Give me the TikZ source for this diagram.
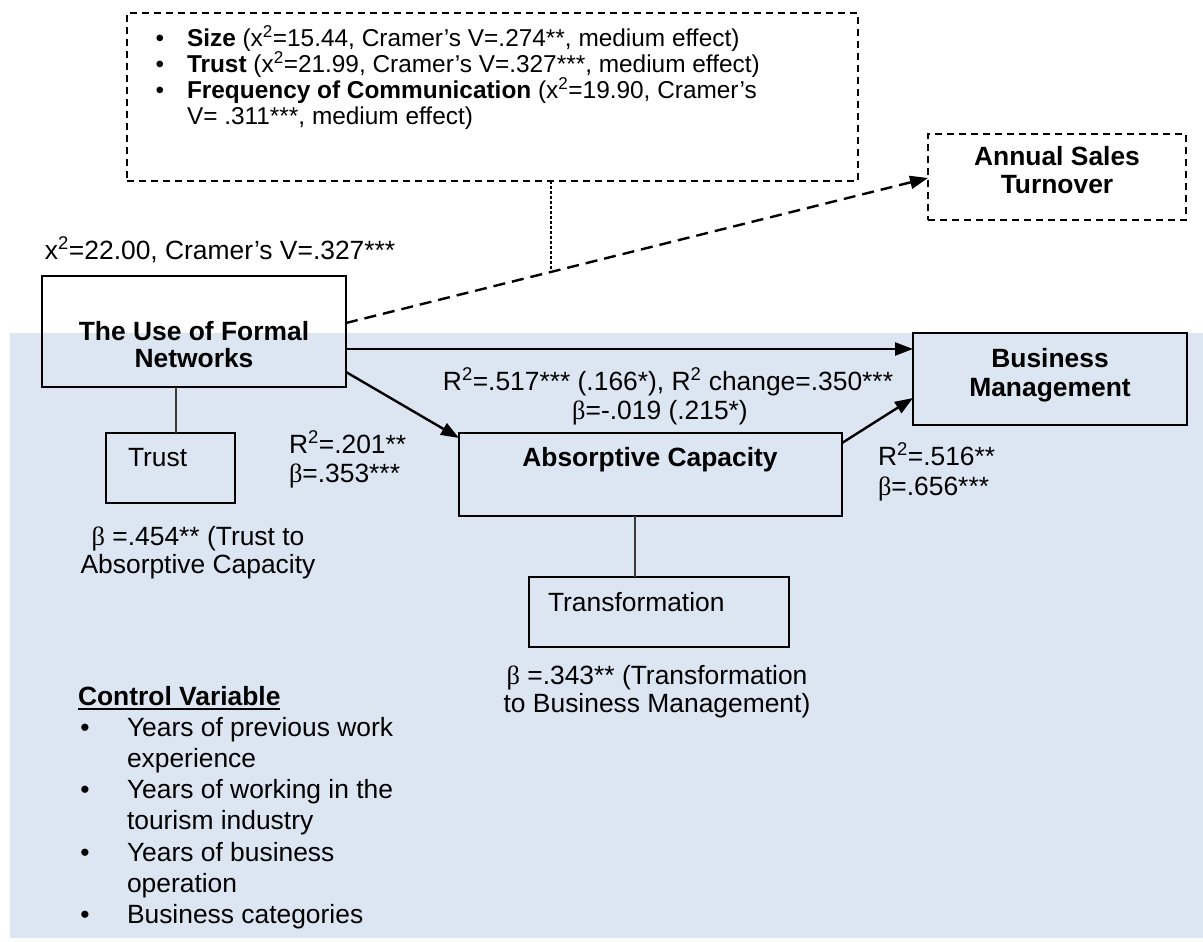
\documentclass[tikz,border=0pt]{standalone}
\usepackage{fontspec}
\setmainfont{Liberation Sans}
\newfontfamily\greekserif{Liberation Serif}
\usetikzlibrary{arrows.meta,calc}
\definecolor{bgblue}{HTML}{DCE6F2}
\definecolor{thinline}{HTML}{3A3A3A}
\newcommand{\bt}{{\greekserif β}}
\newcommand{\sq}{\textsuperscript{2}}
\begin{document}
\begin{tikzpicture}[x=1pt,y=-1pt,
  every node/.style={inner sep=0pt,outer sep=0pt,font=\fontsize{26.4}{29}\selectfont},
  boxnode/.style={draw=black,line width=1.8pt,rectangle,minimum width=#1},
  dashbox/.style={draw=black,line width=1.6pt,dash pattern=on 7pt off 5pt,rectangle},
  solidarrow/.style={line width=2.4pt,-{Triangle[length=18pt,width=13pt]}},
  dasharrow/.style={line width=2.4pt,dash pattern=on 12pt off 7pt,-{Triangle[length=18pt,width=13pt]}},
  linkline/.style={draw=thinline,line width=1.2pt},
  dotline/.style={draw=black,line width=1.1pt,dash pattern=on 3pt off 2pt},
  txt/.style={anchor=base west},
  ctxt/.style={anchor=base},
  bulletmark/.style={anchor=base},
  smalltxt/.style={anchor=base west,font=\fontsize{24.4}{26}\selectfont},
  smallbullet/.style={anchor=base,font=\fontsize{24.4}{26}\selectfont}
]
\useasboundingbox (0,0) rectangle (1203,942);
\fill[white] (0,0) rectangle (1203,942);
% shaded area of the model
\fill[bgblue] (10,333) rectangle (1203,938);

% boxes
\node[dashbox,minimum width=731pt,minimum height=168pt] (top) at (492.5,97) {};
\node[dashbox,minimum width=258pt,minimum height=86pt] (annual) at (1057,177) {};
\node[boxnode=304pt,minimum height=111pt] (formal) at (194,331.5) {};
\node[boxnode=274pt,minimum height=92pt] (business) at (1050,379) {};
\node[boxnode=129pt,minimum height=70pt] (trust) at (170.5,468) {};
\node[boxnode=383pt,minimum height=83pt] (absorb) at (650.5,474.5) {};
\node[boxnode=260pt,minimum height=70pt] (transf) at (659,612) {};

% bullet list of the dashed box
\node[smallbullet] (tb1) at (160,46.5) {•};
\node[smallbullet] (tb2) at (160,72.5) {•};
\node[smallbullet] (tb3) at (160,98.5) {•};
\node[smalltxt] (tl1) at (187,46.5) {\textbf{Size} (x\sq=15.44, Cramer’s V=.274**, medium effect)};
\node[smalltxt] (tl2) at (187,72.5) {\textbf{Trust} (x\sq=21.99, Cramer’s V=.327***, medium effect)};
\node[smalltxt] (tl3) at (187,98.5) {\textbf{Frequency of Communication} (x\sq=19.90, Cramer’s};
\node[smalltxt] (tl4) at (187,124.5) {V= .311***, medium effect)};

% box titles
\node[ctxt] (annualA) at (1057,165) {\textbf{Annual Sales}};
\node[ctxt] (annualB) at (1057,193) {\textbf{Turnover}};
\node[ctxt] (formalA) at (194,340) {\textbf{The Use of Formal}};
\node[ctxt] (formalB) at (194,367) {\textbf{Networks}};
\node[ctxt] (businessA) at (1050,367) {\textbf{Business}};
\node[ctxt] (businessB) at (1050,396) {\textbf{Management}};
\node[txt] (trustT) at (128,466) {Trust};
\node[ctxt] (absorbT) at (650,466) {\textbf{Absorptive Capacity}};
\node[txt] (transfT) at (548,611) {Transformation};

% statistics
\node[txt] (chi) at (45,259) {x\sq=22.00, Cramer’s V=.327***};
\node[txt] (r201) at (289,453) {R\sq=.201**};
\node[txt] (b353) at (289,482) {\bt=.353***};
\node[ctxt] (b454a) at (198,545) {\bt\ =.454** (Trust to};
\node[ctxt] (b454b) at (198,573) {Absorptive Capacity};
\node[ctxt] (r517) at (668,390) {R\sq=.517*** (.166*), R\sq\ change=.350***};
\node[ctxt] (b019) at (660,419) {\bt=-.019 (.215*)};
\node[txt] (r516) at (878,465) {R\sq=.516**};
\node[txt] (b656) at (878,495) {\bt=.656***};
\node[ctxt] (b343a) at (657,684) {\bt\ =.343** (Transformation};
\node[ctxt] (b343b) at (657,712) {to Business Management)};

% control variables
\node[txt] (cv) at (78,705) {\textbf{Control Variable}};
\draw[line width=2.2pt] ([yshift=-4pt]cv.base west) -- ([yshift=-4pt]cv.base east);
\node[bulletmark] (cb1) at (85,736) {•};
\node[txt] (cl1) at (127,736) {Years of previous work};
\node[txt] (cl2) at (127,767) {experience};
\node[bulletmark] (cb2) at (85,798) {•};
\node[txt] (cl3) at (127,798) {Years of working in the};
\node[txt] (cl4) at (127,829) {tourism industry};
\node[bulletmark] (cb3) at (85,861) {•};
\node[txt] (cl5) at (127,861) {Years of business};
\node[txt] (cl6) at (127,892) {operation};
\node[bulletmark] (cb4) at (85,923) {•};
\node[txt] (cl7) at (127,923) {Business categories};

% connectors
\coordinate (dashstart) at ([yshift=8.5pt]formal.east);
\coordinate (dashend) at ([yshift=-1pt]annual.west);
\draw[dasharrow] (dashstart) -- (dashend);
\coordinate (dashjoin) at ($(dashstart)!0.3522!(dashend)$);
\draw[dotline] (top.south -| dashjoin) -- (dashjoin);
\draw[solidarrow] ([yshift=-17.5pt]formal.east) -- ([yshift=30pt]business.west);
\draw[solidarrow] ([yshift=-40.5pt]formal.east) -- ([yshift=-5pt]absorb.north west);
\draw[solidarrow] ([yshift=-10pt]absorb.north east) -- ([yshift=-19pt]business.west);
\draw[linkline] ([xshift=5.5pt]trust.north) -- ([xshift=5.5pt]trust.north |- formal.south);
\draw[linkline] ([xshift=-15.5pt]absorb.south) -- ([xshift=-15.5pt]absorb.south |- transf.north);
\end{tikzpicture}
\end{document}
